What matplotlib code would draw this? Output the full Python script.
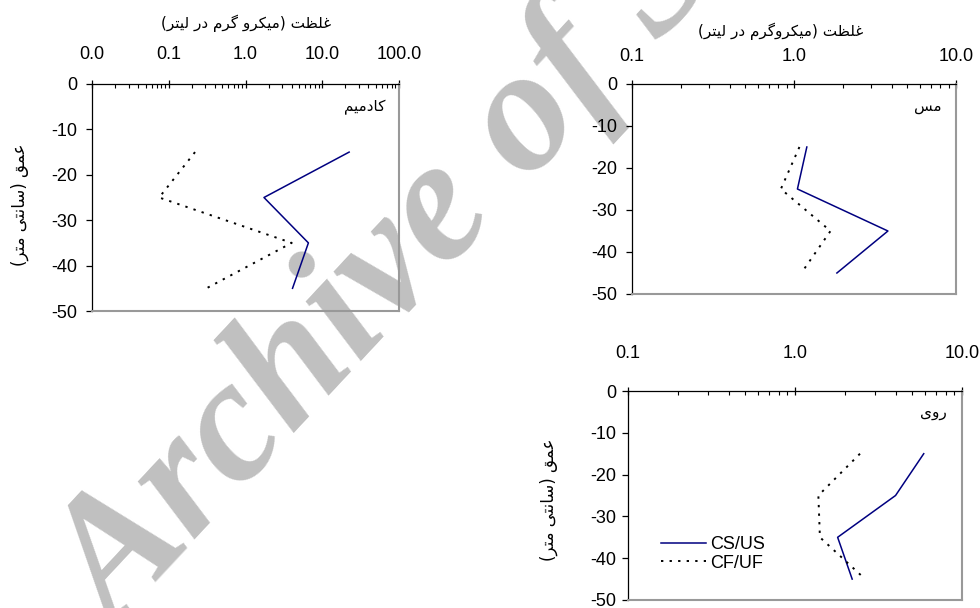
import matplotlib
matplotlib.use("Agg")
import matplotlib.pyplot as plt
from matplotlib.ticker import LogLocator, FixedLocator, FixedFormatter, NullFormatter

# depth of the samples (cm)
depth = [-15, -25, -35, -45]

# cadmium, copper, zinc (microgram per litre)
cd_cs = [22.4, 1.74, 6.6, 4.1]
cd_cf = [0.22, 0.075, 4.0, 0.31]
cu_cs = [1.2, 1.05, 3.8, 1.84]
cu_cf = [1.08, 0.83, 1.68, 1.11]
zn_cs = [5.9, 4.0, 1.8, 2.2]
zn_cf = [2.45, 1.38, 1.41, 2.63]

series_names = ["CS/US", "CF/UF"]
depth_ticks = [0, -10, -20, -30, -40, -50]

# Persian text: matplotlib does no shaping, so map letters to presentation forms
FORMS = {
    "غ": ("\uFECD", "\uFECE", "\uFECF", "\uFED0"),
    "ل": ("\uFEDD", "\uFEDE", "\uFEDF", "\uFEE0"),
    "ظ": ("\uFEC5", "\uFEC6", "\uFEC7", "\uFEC8"),
    "ت": ("\uFE95", "\uFE96", "\uFE97", "\uFE98"),
    "م": ("\uFEE1", "\uFEE2", "\uFEE3", "\uFEE4"),
    "ی": ("\uFBFC", "\uFBFD", "\uFBFE", "\uFBFF"),
    "ک": ("\uFB8E", "\uFB8F", "\uFB90", "\uFB91"),
    "گ": ("\uFB92", "\uFB93", "\uFB94", "\uFB95"),
    "س": ("\uFEB1", "\uFEB2", "\uFEB3", "\uFEB4"),
    "ن": ("\uFEE5", "\uFEE6", "\uFEE7", "\uFEE8"),
    "ع": ("\uFEC9", "\uFECA", "\uFECB", "\uFECC"),
    "ق": ("\uFED5", "\uFED6", "\uFED7", "\uFED8"),
    "ر": ("\uFEAD", "\uFEAE"),
    "و": ("\uFEED", "\uFEEE"),
    "د": ("\uFEA9", "\uFEAA"),
    "ا": ("\uFE8D", "\uFE8E"),
}


def fa(s):
    out = []
    for i, ch in enumerate(s):
        f = FORMS.get(ch)
        if f is None:
            out.append({"(": ")", ")": "("}.get(ch, ch))
            continue
        prev = s[i - 1] if i > 0 else ""
        nxt = s[i + 1] if i + 1 < len(s) else ""
        jp = prev in FORMS and len(FORMS[prev]) == 4
        jn = len(f) == 4 and nxt in FORMS
        if jp and jn:
            out.append(f[3])
        elif jp:
            out.append(f[1])
        elif jn:
            out.append(f[2])
        else:
            out.append(f[0])
    return "".join(reversed(out))


W, H = 980, 608
plt.rcParams["font.family"] = ["Liberation Sans", "DejaVu Sans"]
plt.rcParams["axes.unicode_minus"] = False
fig = plt.figure(figsize=(W / 100, H / 100), dpi=100)

# watermark behind the panels
fig.text(116 / W, 1 - 634 / H, "Archive of SID", rotation=47, rotation_mode="anchor",
         ha="left", va="baseline", fontsize=126, color="#c0c0c0",
         family="Liberation Serif", style="italic", weight="bold", zorder=-5)


def px_axes(l, t, r, b):
    return fig.add_axes([l / W, 1 - b / H, (r - l) / W, (b - t) / H])


def panel(ax, xmin, xmax, cs, cf, name, xpad, ypad):
    ax.set_facecolor("none")
    ax.plot(cs, depth, color="#000080", lw=1.1, label=series_names[0])
    ax.plot(cf, depth, color="black", lw=1.4, ls=(0, (1.2, 3.2)), label=series_names[1])
    ax.set_xscale("log")
    ax.set_xlim(xmin, xmax)
    ax.set_ylim(-50, 0)
    ax.xaxis.tick_top()
    majors = [v for v in [0.01, 0.1, 1, 10, 100] if xmin <= v <= xmax]
    ax.xaxis.set_major_locator(FixedLocator(majors))
    ax.xaxis.set_major_formatter(FixedFormatter(["%.1f" % v for v in majors]))
    ax.xaxis.set_minor_locator(LogLocator(base=10, subs=range(2, 10)))
    ax.xaxis.set_minor_formatter(NullFormatter())
    ax.tick_params(axis="x", which="major", direction="inout", length=6, width=0.9,
                   labelsize=13, pad=xpad)
    ax.tick_params(axis="x", which="minor", direction="in", length=3, width=0.8)
    ax.set_yticks(depth_ticks)
    ax.tick_params(axis="y", direction="out", length=4.3, width=0.9, labelsize=13, pad=ypad)
    ax.spines["left"].set_color("black")
    ax.spines["top"].set_color("black")
    ax.spines["left"].set_linewidth(0.9)
    ax.spines["top"].set_linewidth(0.9)
    for s in ["right", "bottom"]:
        ax.spines[s].set_color("#999999")
        ax.spines[s].set_linewidth(1.5)
    ax.text(0.955, 0.895, fa(name), transform=ax.transAxes, ha="right", va="center",
            fontsize=11, family="DejaVu Sans")


ax1 = px_axes(92, 84, 399, 311)
panel(ax1, 0.01, 100, cd_cs, cd_cf, "کادمیم", 12, 6)

ax2 = px_axes(632, 84, 956, 294)
panel(ax2, 0.1, 10, cu_cs, cu_cf, "مس", 10.5, 6.5)

ax3 = px_axes(628, 391, 962, 600)
panel(ax3, 0.1, 10, zn_cs, zn_cf, "روی", 18, 4.3)

fig.text(246 / W, 1 - 23 / H, fa("غلظت (میکرو گرم در لیتر)"), ha="center", va="center",
         fontsize=11, family="DejaVu Sans")
fig.text(781 / W, 1 - 31 / H, fa("غلظت (میکروگرم در لیتر)"), ha="center", va="center",
         fontsize=11, family="DejaVu Sans")
fig.text(20 / W, 1 - 205 / H, fa("عمق (سانتی متر)"), rotation=90, ha="center", va="center",
         fontsize=12, family="DejaVu Sans")
fig.text(549 / W, 1 - 500 / H, fa("عمق (سانتی متر)"), rotation=90, ha="center", va="center",
         fontsize=12, family="DejaVu Sans")

ax3.legend(loc="upper left", bbox_to_anchor=(661 / W, 1 - 536 / H), bbox_transform=fig.transFigure,
           frameon=False, fontsize=13, handlelength=2.5, handletextpad=0.2, labelspacing=0.1,
           borderpad=0, borderaxespad=0)

fig.savefig("out.png", dpi=100)
